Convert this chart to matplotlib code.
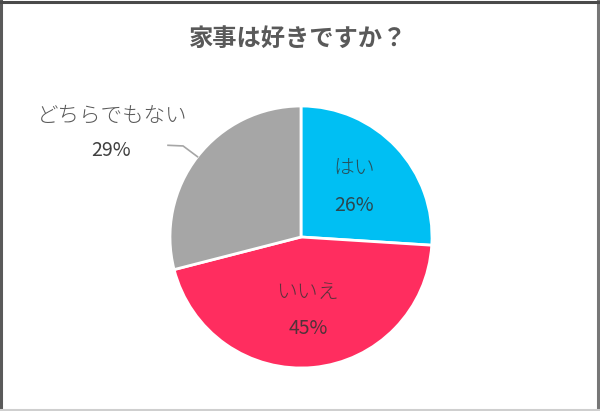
import numpy as np
import matplotlib
matplotlib.use('Agg')
import matplotlib.pyplot as plt
from matplotlib.lines import Line2D

plt.rcParams['font.family'] = ['Noto Sans CJK JP', 'DejaVu Sans']

# data
title = '家事は好きですか？'
labels = ['はい', 'いいえ', 'どちらでもない']
values = [26, 45, 29]
colors = ['#00BFF3', '#FF2D5F', '#A6A6A6']

fig = plt.figure(figsize=(6.0, 4.11), dpi=100)
fig.patch.set_facecolor('white')

# frame around the picture (darker top/sides, light bottom)
for xs, ys, c in [([0.002, 0.002], [0.003, 0.997], '#5a5a5a'),
                  ([0.997, 0.997], [0.003, 0.997], '#777777'),
                  ([0.002, 0.997], [0.996, 0.996], '#4a4a4a'),
                  ([0.002, 0.997], [0.003, 0.003], '#cfcfcf')]:
    fig.lines.append(Line2D(xs, ys, transform=fig.transFigure, color=c, lw=2.2))

fig.text(0.497, 0.905, title, ha='center', va='center', fontsize=17.5,
         fontweight='bold', color='#595959')

ax = fig.add_axes([0.2833, 0.1046, 0.4367, 0.6375])
wedges, _ = ax.pie(values, colors=colors, startangle=90, counterclock=False,
                   wedgeprops=dict(edgecolor='white', linewidth=2))
ax.set_xlim(-1, 1)
ax.set_ylim(-1, 1)
ax.set_aspect('equal')
ax.axis('off')

# inside labels for the first two slices
for w, lab, v in zip(wedges[:2], labels[:2], values[:2]):
    th = np.deg2rad((w.theta1 + w.theta2) / 2)
    cx, cy = 0.56 * np.cos(th), 0.56 * np.sin(th)
    ax.text(cx, cy + 0.14, lab, ha='center', va='center', fontsize=15,
            color='#333333', alpha=0.8, fontweight='light')
    ax.text(cx, cy - 0.14, f'{v}%', ha='center', va='center', fontsize=14,
            color='#333333', alpha=0.85)

# outside label with leader line for the last slice
w = wedges[2]
th = np.deg2rad((w.theta1 + w.theta2) / 2)
ex, ey = np.cos(th), np.sin(th)
ax.plot([-1.015, -0.90, ex], [0.70, 0.695, ey], color='#a6a6a6', lw=1.2,
        clip_on=False)
ax.text(-1.44, 0.93, labels[2], ha='center', va='center', fontsize=15.5,
        color='#595959', fontweight='light')
ax.text(-1.45, 0.66, f'{values[2]}%', ha='center', va='center', fontsize=14,
        color='#404040')

fig.savefig('out.png', dpi=100, facecolor='white')
